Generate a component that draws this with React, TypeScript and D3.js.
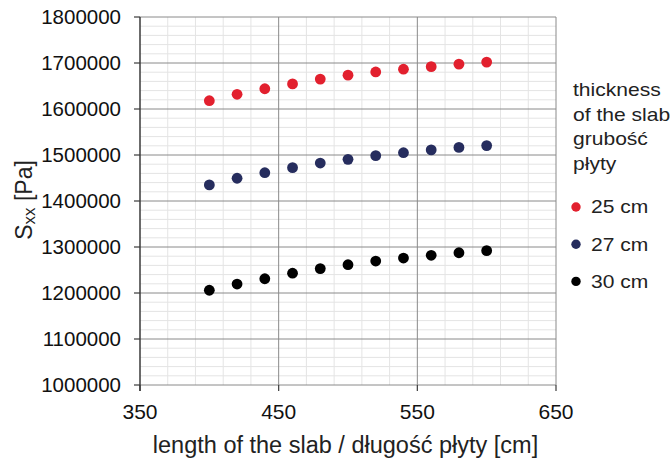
import React from "react";
import * as d3 from "d3";

const WIDTH = 672;
const HEIGHT = 460;
const MARGIN = { top: 17, right: 116, bottom: 75, left: 140 };

const LENGTHS = [400, 420, 440, 460, 480, 500, 520, 540, 560, 580, 600];
const SXX_25 = [1618000, 1632000, 1644000, 1654500, 1665000, 1673500, 1680500, 1686500, 1692000, 1697500, 1702000];
const SXX_27 = [1435000, 1449500, 1461500, 1472500, 1482500, 1490500, 1498500, 1505000, 1511000, 1516500, 1520500];
const SXX_30 = [1206000, 1219500, 1231000, 1243000, 1253000, 1261500, 1269500, 1276000, 1282000, 1287500, 1292000];

const SERIES = [
  { label: "25 cm", color: "#e2202e", values: SXX_25 },
  { label: "27 cm", color: "#262d5e", values: SXX_27 },
  { label: "30 cm", color: "#000000", values: SXX_30 },
];

const X_TICKS = [350, 450, 550, 650];
const Y_TICKS = d3.range(1000000, 1800001, 100000);
const LEGEND_TITLE = ["thickness", "of the slab", "grubość", "płyty"];

const FONT = "'Liberation Sans', Arial, sans-serif";

export default function App() {
  const innerW = WIDTH - MARGIN.left - MARGIN.right;
  const innerH = HEIGHT - MARGIN.top - MARGIN.bottom;
  const x = d3.scaleLinear().domain([350, 650]).range([MARGIN.left, MARGIN.left + innerW]);
  const y = d3.scaleLinear().domain([1000000, 1800000]).range([MARGIN.top + innerH, MARGIN.top]);

  const xMinor = d3.range(350, 651, 20).filter((v) => (v - 350) % 100 !== 0);
  const yMinor = d3.range(1000000, 1800001, 20000).filter((v) => v % 100000 !== 0);

  // legend text in the source is drawn a bit wider than plain Arial
  const legendText = (txt: string, tx: number, ty: number) => (
    <text transform={`translate(${tx},${ty}) scale(1.17,1)`} fontSize={18} fill="#222">
      {txt}
    </text>
  );

  return (
    <div style={{ position: "fixed", left: 0, top: 0 }}>
      <svg width={WIDTH} height={HEIGHT} style={{ display: "block", background: "#fff", fontFamily: FONT }}>
        {/* minor grid */}
        {xMinor.map((v) => (
          <line key={"xm" + v} x1={x(v)} x2={x(v)} y1={y(1800000)} y2={y(1000000)} stroke="#e4e4e4" strokeWidth={1} />
        ))}
        {yMinor.map((v) => (
          <line key={"ym" + v} x1={x(350)} x2={x(650)} y1={y(v)} y2={y(v)} stroke="#e4e4e4" strokeWidth={1} />
        ))}
        {/* major grid */}
        {X_TICKS.slice(1).map((v) => (
          <line key={"xM" + v} x1={x(v)} x2={x(v)} y1={y(1800000)} y2={y(1000000)} stroke="#8a8a8a" strokeWidth={1} />
        ))}
        {Y_TICKS.map((v) => (
          <line key={"yM" + v} x1={x(350)} x2={x(650)} y1={y(v)} y2={y(v)} stroke="#8a8a8a" strokeWidth={1} />
        ))}

        {/* y axis */}
        <line x1={x(350)} x2={x(350)} y1={y(1800000)} y2={y(1000000) + 6} stroke="#3a3a3a" strokeWidth={1.5} />
        {Y_TICKS.map((v) => (
          <g key={"yt" + v}>
            <line x1={x(350) - 6} x2={x(350)} y1={y(v)} y2={y(v)} stroke="#3a3a3a" strokeWidth={1.2} />
            <text x={x(350) - 19} y={y(v)} dy="0.36em" textAnchor="end" fontSize={20.5} fill="#111">
              {v}
            </text>
          </g>
        ))}

        {/* x axis */}
        {X_TICKS.map((v) => (
          <g key={"xt" + v}>
            <line x1={x(v)} x2={x(v)} y1={y(1000000)} y2={y(1000000) + 6} stroke="#3a3a3a" strokeWidth={1.2} />
            <text x={x(v)} y={419} textAnchor="middle" fontSize={21} fill="#111">
              {v}
            </text>
          </g>
        ))}

        <text x={345.5} y={453} textAnchor="middle" fontSize={23.5} fill="#222">
          length of the slab / długość płyty [cm]
        </text>

        <text transform={`translate(32, 200) rotate(-90)`} textAnchor="middle" fontSize={23} fill="#222">
          S<tspan fontSize={17} dy={3}>xx</tspan>
          <tspan dy={-3}> [Pa]</tspan>
        </text>

        {/* points */}
        {SERIES.map((s) =>
          s.values.map((v, i) => (
            <circle key={s.label + i} cx={x(LENGTHS[i])} cy={y(v)} r={5.4} fill={s.color} />
          ))
        )}

        {/* legend */}
        {LEGEND_TITLE.map((line, i) => (
          <g key={line}>{legendText(line, 573, 96 + i * 24.5)}</g>
        ))}
        {SERIES.map((s, i) => (
          <g key={"lg" + s.label}>
            <circle cx={576} cy={207 + i * 37.2} r={4.7} fill={s.color} />
            {legendText(s.label, 591, 213.3 + i * 37.2)}
          </g>
        ))}
      </svg>
    </div>
  );
}
